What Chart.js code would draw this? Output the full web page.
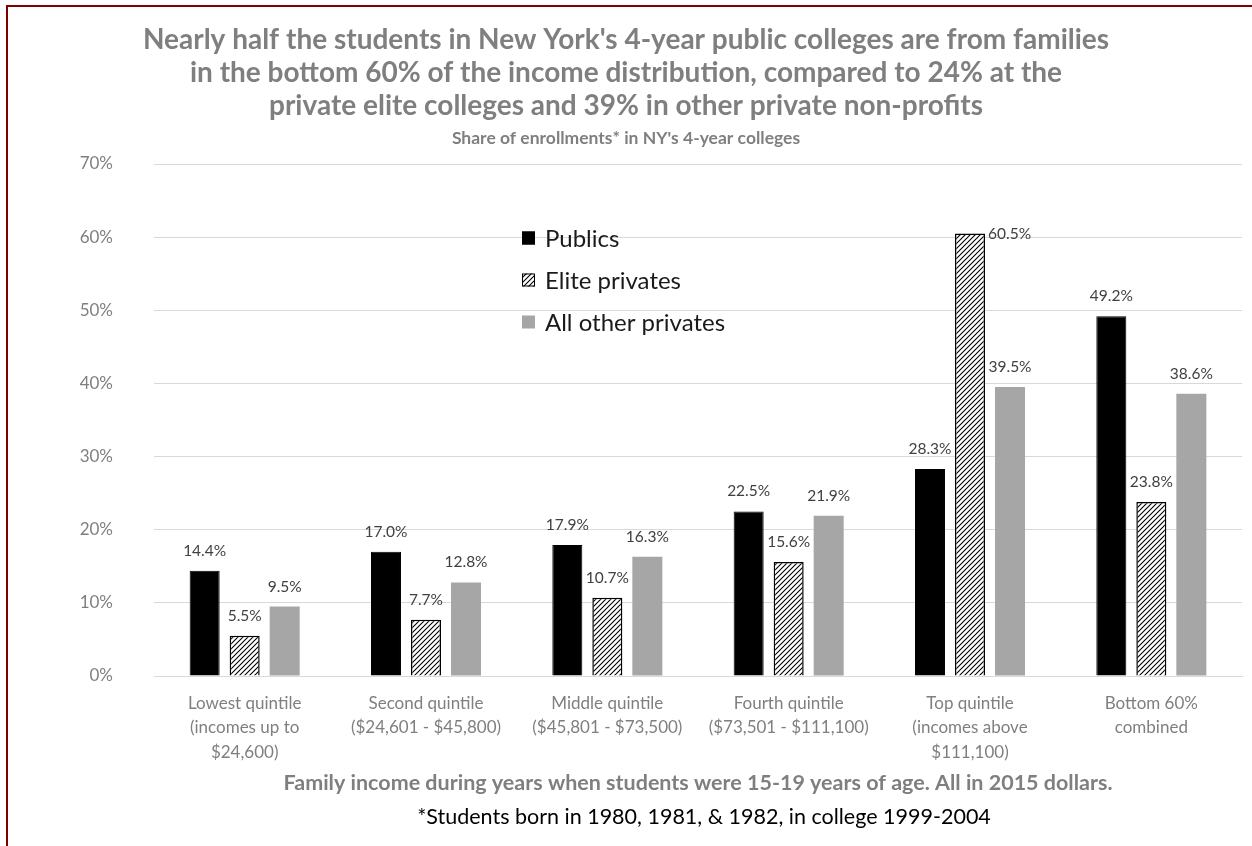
<!DOCTYPE html>
<html>
<head>
<meta charset="utf-8">
<script src="https://cdn.jsdelivr.net/npm/chart.js@4.4.1/dist/chart.umd.min.js"></script>
<style>
  html, body { margin: 0; padding: 0; background: #fff; }
  #wrap { position: relative; width: 1252px; height: 846px; overflow: hidden; }
  #frame { position: absolute; left: 6px; top: 5px; width: 1300px; height: 900px; border-left: 2px solid #7b0000; border-top: 2px solid #7b0000; pointer-events: none; }
</style>
</head>
<body>
<div id="wrap">
  <canvas id="c" width="1252" height="846"></canvas>
  <div id="frame"></div>
</div>
<script>
const categories = [
  ["Lowest quintile", "(incomes up to", "$24,600)"],
  ["Second quintile", "($24,601 - $45,800)"],
  ["Middle quintile", "($45,801 - $73,500)"],
  ["Fourth quintile", "($73,501 - $111,100)"],
  ["Top quintile", "(incomes above", "$111,100)"],
  ["Bottom 60%", "combined"]
];
const seriesNames = ["Publics", "Elite privates", "All other privates"];
const publics = [14.4, 17.0, 17.9, 22.5, 28.3, 49.2];
const elitePrivates = [5.5, 7.7, 10.7, 15.6, 60.5, 23.8];
const otherPrivates = [9.5, 12.8, 16.3, 21.9, 39.5, 38.6];
const yTicks = [0, 10, 20, 30, 40, 50, 60, 70];

const titleLines = [
  "Nearly half the students in New York's 4-year public colleges are from families",
  "in the bottom 60% of the income distribution, compared to 24% at the",
  "private elite colleges and 39% in other private non-profits"
];
const subtitleText = "Share of enrollments* in NY's 4-year colleges";
const xTitleText = "Family income during years when students were 15-19 years of age. All in 2015 dollars.";
const footnoteText = "*Students born in 1980, 1981, & 1982, in college 1999-2004";

const FONT = "Lato, 'Open Sans', sans-serif";

function makeHatch() {
  const c = document.createElement('canvas');
  c.width = 5; c.height = 5;
  const x = c.getContext('2d');
  x.fillStyle = '#fff'; x.fillRect(0, 0, 5, 5);
  x.strokeStyle = '#000'; x.lineWidth = 1.1;
  x.beginPath();
  x.moveTo(-1, 6); x.lineTo(6, -1);
  x.moveTo(-1, 1); x.lineTo(1, -1);
  x.moveTo(4, 6); x.lineTo(6, 4);
  x.stroke();
  return x.createPattern(c, 'repeat');
}
const hatch = makeHatch();

const valueLabels = {
  id: 'valueLabels',
  afterDatasetsDraw(chart) {
    const ctx = chart.ctx;
    ctx.save();
    ctx.font = "15.5px " + FONT;
    ctx.fillStyle = '#404040';
    chart.data.datasets.forEach((ds, di) => {
      const meta = chart.getDatasetMeta(di);
      meta.data.forEach((el, i) => {
        const v = ds.data[i];
        const txt = v.toFixed(1) + '%';
        if (v > 55) {
          ctx.textAlign = 'left'; ctx.textBaseline = 'middle';
          ctx.fillText(txt, el.x + el.width / 2 + 3, el.y + 1);
        } else {
          ctx.textAlign = 'center'; ctx.textBaseline = 'middle';
          ctx.fillText(txt, el.x, el.y - 20);
        }
      });
    });
    ctx.restore();
  }
};

const customLegend = {
  id: 'customLegend',
  afterDraw(chart) {
    const ctx = chart.ctx;
    ctx.save();
    const x0 = 522, y0 = 238, dy = 42, s = 13;
    chart.data.datasets.forEach((ds, i) => {
      const y = y0 + i * dy;
      ctx.fillStyle = ds.backgroundColor;
      ctx.fillRect(x0, y - s / 2, s, s);
      if (ds.borderWidth) {
        ctx.strokeStyle = '#000'; ctx.lineWidth = 1;
        ctx.strokeRect(x0 + 0.5, y - s / 2 + 0.5, s - 1, s - 1);
      }
      ctx.fillStyle = '#1a1a1a';
      ctx.font = "24px " + FONT;
      ctx.textAlign = 'left'; ctx.textBaseline = 'middle';
      ctx.fillText(ds.label, x0 + s + 10, y + 1);
    });
    ctx.restore();
  }
};

const footnote = {
  id: 'footnote',
  afterDraw(chart) {
    const ctx = chart.ctx;
    ctx.save();
    ctx.font = "21.5px " + FONT;
    ctx.fillStyle = '#000';
    ctx.textAlign = 'center'; ctx.textBaseline = 'middle';
    ctx.fillText(footnoteText, 704, 817);
    ctx.restore();
  }
};

new Chart(document.getElementById('c'), {
  type: 'bar',
  data: {
    labels: categories,
    datasets: [
      { label: seriesNames[0], data: publics, backgroundColor: '#000000', borderColor: '#000000', borderWidth: 1 },
      { label: seriesNames[1], data: elitePrivates, backgroundColor: hatch, borderColor: '#000000', borderWidth: 1.5 },
      { label: seriesNames[2], data: otherPrivates, backgroundColor: '#a6a6a6', borderWidth: 0 }
    ]
  },
  plugins: [valueLabels, customLegend, footnote],
  options: {
    responsive: false,
    animation: false,
    devicePixelRatio: 1,
    layout: { padding: { top: 0, left: 10, right: 10, bottom: 0 } },
    datasets: { bar: { categoryPercentage: 0.662, barPercentage: 0.75 } },
    plugins: {
      legend: { display: false },
      tooltip: { enabled: false },
      title: {
        display: true, text: titleLines, color: '#7f7f7f',
        font: { family: FONT, size: 28, weight: 'bold', lineHeight: 1.1786 },
        padding: { top: 23, bottom: 6 }
      },
      subtitle: {
        display: true, text: subtitleText, color: '#7f7f7f',
        font: { family: FONT, size: 17.5, weight: 'bold', lineHeight: 1.2 },
        padding: { top: 0, bottom: 15 }
      }
    },
    scales: {
      x: {
        grid: { display: false, drawTicks: false },
        border: { display: true, color: '#d9d9d9', width: 1 },
        ticks: { color: '#7f7f7f', font: { family: FONT, size: 17, lineHeight: 1.44 }, padding: 15, maxRotation: 0, autoSkip: false },
        title: { display: true, text: xTitleText, color: '#7f7f7f', font: { family: FONT, size: 21.5, weight: 'bold', lineHeight: 1.2 }, padding: { top: 0, bottom: 50 } },
        afterFit(s) { s.height = 170; }
      },
      y: {
        min: 0, max: 70,
        afterBuildTicks(s) { s.ticks = yTicks.map(v => ({ value: v })); },
        grid: { color: '#d9d9d9', drawTicks: false, lineWidth: 1 },
        border: { display: false },
        ticks: { color: '#7f7f7f', font: { family: FONT, size: 17 }, padding: 41, callback: v => v + '%' },
        afterFit(s) { s.width = 144; }
      }
    }
  }
});
</script>
</body>
</html>
